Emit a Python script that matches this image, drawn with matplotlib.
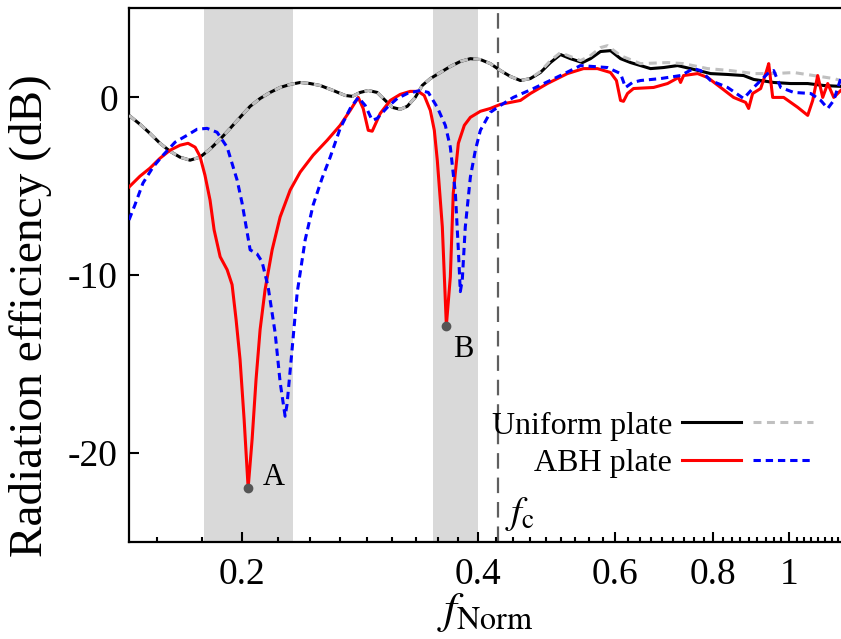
import numpy as np
import matplotlib
matplotlib.use('Agg')
import matplotlib.pyplot as plt
from matplotlib.legend_handler import HandlerTuple

plt.rcParams['font.family'] = ['Liberation Serif', 'DejaVu Serif']
plt.rcParams['mathtext.fontset'] = 'stix'
plt.rcParams['axes.unicode_minus'] = False

# Uniform plate, solid (black)
uni_x = [0.1434, 0.1481, 0.1525, 0.1571, 0.1618, 0.1666, 0.1716, 0.1767, 0.1820, 0.1875,
         0.1931, 0.1988, 0.2048, 0.2109, 0.2172, 0.2237, 0.2304, 0.2373, 0.2444, 0.2517,
         0.2615, 0.2709, 0.2766, 0.2831, 0.2899, 0.2976, 0.3048, 0.3111, 0.3185, 0.3252,
         0.3329, 0.3398, 0.3480, 0.3584, 0.3691, 0.3801, 0.3915, 0.4032, 0.4152, 0.4277,
         0.4404, 0.4536, 0.4671, 0.4811, 0.4955, 0.5103, 0.5255, 0.5445, 0.5575, 0.5741,
         0.5913, 0.6090, 0.6272, 0.6652, 0.6911, 0.7202, 0.7484, 0.7938, 0.8345, 0.8748,
         0.9011, 0.9557, 1.0047, 1.0563, 1.1074, 1.1641]
uni_y = [-1.01, -1.51, -2.02, -2.58, -3.03, -3.36, -3.53, -3.36, -2.91, -2.35,
         -1.74, -1.12, -0.50, -0.06, 0.28, 0.56, 0.73, 0.84, 0.78, 0.67,
         0.39, 0.11, 0.06, 0.28, 0.39, 0.28, -0.17, -0.56, -0.67, -0.50,
         0.00, 0.67, 1.06, 1.40, 1.74, 2.02, 2.18, 2.13, 1.90, 1.51,
         1.18, 0.95, 1.06, 1.40, 1.96, 2.41, 2.18, 1.96, 2.18, 2.58,
         2.63, 2.18, 1.96, 1.62, 1.68, 1.79, 1.62, 1.34, 1.29, 1.23,
         1.01, 0.84, 0.78, 0.78, 0.67, 0.62]

# Uniform plate, dashed (grey) - same as solid below 0.47
uni2_x = uni_x[:43] + [0.4811, 0.4955, 0.5103, 0.5255, 0.5413, 0.5575, 0.5741, 0.5860,
                       0.6090, 0.6459, 0.6993, 0.7331, 0.7868, 0.8420, 0.9011, 0.9557,
                       1.0137, 1.0752, 1.1404, 1.1641]
uni2_y = uni_y[:43] + [1.46, 2.07, 2.52, 2.30, 2.07, 2.35, 2.80, 2.91,
                       2.35, 1.90, 1.96, 1.90, 1.62, 1.51, 1.34, 1.34,
                       1.40, 1.23, 1.06, 0.95]

# ABH plate, solid (red)
abh_x = [0.1434, 0.1481, 0.1525, 0.1571, 0.1618, 0.1666, 0.1706, 0.1742, 0.1767, 0.1793,
         0.1820, 0.1842, 0.1875, 0.1914, 0.1942, 0.1965, 0.1988, 0.2012, 0.2036, 0.2060,
         0.2084, 0.2109, 0.2140, 0.2185, 0.2237, 0.2304, 0.2373, 0.2465, 0.2569, 0.2669,
         0.2749, 0.2815, 0.2856, 0.2899, 0.2933, 0.3003, 0.3093, 0.3185, 0.3280, 0.3358,
         0.3418, 0.3480, 0.3521, 0.3552, 0.3605, 0.3648, 0.3691, 0.3723, 0.3779, 0.3846,
         0.3915, 0.4032, 0.4152, 0.4277, 0.4536, 0.4671, 0.4911, 0.5209, 0.5461, 0.5690,
         0.5913, 0.6017, 0.6090, 0.6143, 0.6216, 0.6327, 0.6712, 0.6993, 0.7223, 0.7266,
         0.7331, 0.7640, 0.7868, 0.8176, 0.8493, 0.8800, 0.8878, 0.8983, 0.9198, 0.9362,
         0.9418, 0.9529, 0.9842, 1.0258, 1.0563, 1.0719, 1.0878, 1.1040, 1.1204, 1.1404,
         1.1641]
abh_y = [-5.04, -4.43, -3.98, -3.42, -2.97, -2.69, -2.58, -2.80, -3.31, -4.37,
         -5.77, -7.45, -8.96, -9.69, -10.53, -12.49, -14.73, -18.10, -21.96, -19.22,
         -15.85, -13.05, -10.81, -8.57, -6.72, -5.21, -4.20, -3.25, -2.41, -1.57,
         -0.73, 0.00, -0.62, -1.85, -1.90, -0.90, -0.17, 0.17, 0.34, 0.34,
         0.11, -0.73, -1.85, -3.53, -7.28, -12.83, -10.08, -5.38, -2.58, -1.57,
         -1.12, -0.78, -0.62, -0.39, -0.17, 0.22, 0.78, 1.34, 1.62, 1.62,
         1.40, 0.95, -0.17, -0.22, 0.22, 0.50, 0.56, 0.78, 1.12, 0.84,
         1.23, 1.34, 1.12, 0.56, 0.00, -0.28, -0.62, 0.22, 0.50, 1.51,
         1.90, 0.00, 0.00, -0.56, -1.01, -0.17, 1.23, 0.00, 0.78, 0.00,
         0.39]

# ABH plate, dashed (blue)
abh2_x = [0.1434, 0.1459, 0.1494, 0.1539, 0.1585, 0.1642, 0.1701, 0.1752, 0.1804, 0.1858,
          0.1914, 0.1971, 0.2000, 0.2048, 0.2090, 0.2121, 0.2159, 0.2204, 0.2237, 0.2270,
          0.2283, 0.2317, 0.2352, 0.2408, 0.2465, 0.2531, 0.2592, 0.2669, 0.2749, 0.2815,
          0.2873, 0.2933, 0.2976, 0.3066, 0.3157, 0.3252, 0.3379, 0.3459, 0.3552, 0.3637,
          0.3691, 0.3746, 0.3779, 0.3801, 0.3823, 0.3857, 0.3915, 0.3973, 0.4032, 0.4152,
          0.4277, 0.4442, 0.4713, 0.5103, 0.5413, 0.5860, 0.6090, 0.6180, 0.6308, 0.6459,
          0.6851, 0.7266, 0.7550, 0.7708, 0.7938, 0.8345, 0.8748, 0.9011, 0.9390, 0.9557,
          0.9756, 1.0137, 1.0657, 1.0976, 1.1204, 1.1404, 1.1641]
abh2_y = [-6.89, -6.05, -4.82, -3.92, -3.25, -2.52, -2.13, -1.79, -1.74, -1.96,
          -2.80, -4.65, -5.94, -8.57, -8.80, -9.24, -10.64, -13.22, -16.02, -17.93,
          -17.25, -14.17, -10.98, -8.01, -6.05, -4.54, -3.36, -1.74, -0.62, 0.00,
          -0.45, -1.29, -1.18, -0.56, -0.06, 0.22, 0.39, 0.28, -0.56, -1.57,
          -2.80, -5.38, -8.57, -10.92, -10.25, -7.28, -4.48, -2.97, -1.85, -0.84,
          -0.45, 0.00, 0.50, 1.23, 1.79, 1.68, 1.34, 0.56, 0.84, 0.95,
          1.06, 1.23, 1.62, 1.51, 0.95, 0.56, -0.06, 0.56, 1.34, 1.51,
          0.56, 0.28, 0.22, -0.17, -0.62, -0.17, 1.06]

# highlighted bands, critical frequency and marked minima
bands = [(0.1788, 0.2324), (0.351, 0.400)]
f_c = 0.425
marks_x = [0.2036, 0.3648]
marks_y = [-21.96, -12.83]
mark_labels = ['A', 'B']

fig = plt.figure(figsize=(8.41, 6.39), dpi=100)
ax = fig.add_axes([0.1534, 0.1518, 0.8466, 0.8349])

for lo, hi in bands:
    ax.axvspan(lo, hi, color='#d9d9d9', lw=0, zorder=0)
ax.axvline(f_c, color='#5f5f5f', lw=1.6, dashes=(7, 4), zorder=1)

l1, = ax.plot(uni_x, uni_y, color='black', lw=2.2, zorder=2)
l2, = ax.plot(uni2_x, uni2_y, color='#c0c0c0', lw=2.2, dashes=(2.6, 1.8), zorder=3)
l3, = ax.plot(abh_x, abh_y, color='#ff0000', lw=2.2, zorder=4)
l4, = ax.plot(abh2_x, abh2_y, color='#0000ff', lw=2.2, dashes=(2.4, 1.6), zorder=5)

ax.plot(marks_x, marks_y, 'o', color='#555555', ms=6, zorder=6)
ax.text(0.2198, -21.35, mark_labels[0], fontsize=22, ha='center', va='center')
ax.text(0.3834, -14.17, mark_labels[1], fontsize=22, ha='center', va='center')
ax.text(0.4338, -23.4, r'$f_\mathrm{c}$', fontsize=28, ha='left', va='center')

ax.set_xscale('log')
ax.set_xlim(0.1434, 1.165)
ax.set_ylim(-25, 5)

ax.set_xticks([0.2, 0.4, 0.6, 0.8, 1.0])
ax.set_xticklabels(['0.2', '0.4', '0.6', '0.8', '1'])
minor = [0.2 + k * 0.2 / 9 for k in range(-2, 44) if k % 9 != 0]
ax.set_xticks(minor, minor=True)
ax.set_xticklabels([], minor=True)
ax.set_yticks([-20, -10, 0])
ax.set_yticklabels(['-20', '-10', '0'])

ax.tick_params(which='both', direction='in', top=False, right=False, width=1.5)
ax.tick_params(which='major', length=7, labelsize=27, pad=11)
ax.tick_params(axis='y', which='major', pad=8)
ax.tick_params(which='minor', length=3.5)
for s in ['left', 'bottom', 'top']:
    ax.spines[s].set_linewidth(1.6)
ax.spines['right'].set_visible(False)

ax.set_xlabel(r'$f_{\mathrm{Norm}}$', fontsize=33)
ax.xaxis.set_label_coords(0.5, -0.092)
ax.set_ylabel('Radiation efficiency (dB)', fontsize=34)
ax.yaxis.set_label_coords(-0.108, 0.425)

ax.legend([(l1, l2), (l3, l4)], ['Uniform plate', 'ABH plate'],
          handler_map={tuple: HandlerTuple(ndivide=None, pad=0.4)},
          loc='lower right', bbox_to_anchor=(0.96, 0.12), frameon=False,
          markerfirst=False, fontsize=23, handlelength=4.1, handletextpad=0.3,
          labelspacing=0.25, borderpad=0, borderaxespad=0)

fig.savefig('out.png', dpi=100)
